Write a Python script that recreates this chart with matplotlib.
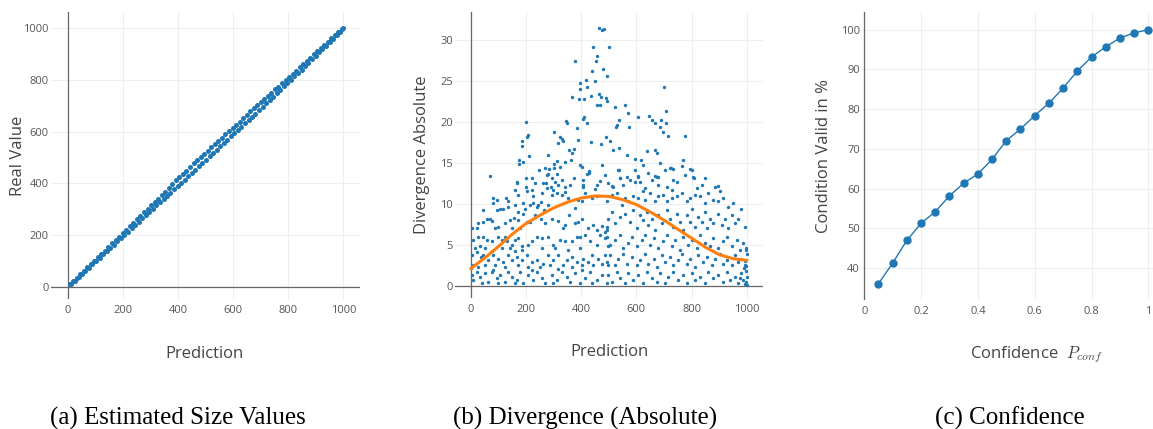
import numpy as np
import matplotlib.pyplot as plt

plt.rcParams['font.family'] = ['Open Sans', 'DejaVu Sans']
plt.rcParams['mathtext.fontset'] = 'cm'

BLUE = '#1f77b4'
ORANGE = '#ff7f0e'
GRID = '#eeeeee'
ZERO = '#666666'
TXT = '#444444'

# (a) estimated size values: prediction vs real value
pred_a = [8, 14, 20, 27, 33, 40, 46, 52, 58, 65, 71, 78, 84, 90, 97, 103, 110, 116, 122, 129,
          135, 142, 148, 155, 161, 168, 174, 180, 187, 193, 200, 206, 213, 219, 226, 232, 238, 245,
          251, 258, 264, 270, 277, 283, 290, 296, 303, 309, 316, 322, 328, 335, 341, 348, 354, 360,
          367, 373, 380, 386, 393, 399, 405, 412, 418, 425, 431, 438, 444, 450, 457, 463, 470, 476,
          483, 489, 495, 502, 508, 515, 521, 527, 534, 540, 547, 553, 560, 566, 572, 579, 585, 592,
          598, 604, 611, 617, 624, 630, 636, 643, 649, 656, 662, 668, 675, 681, 688, 694, 700, 707,
          713, 720, 726, 732, 739, 745, 752, 758, 764, 771, 777, 784, 790, 796, 803, 809, 816, 822,
          828, 835, 841, 848, 854, 860, 867, 873, 880, 886, 892, 899, 905, 912, 918, 924, 931, 937,
          944, 950, 956, 963, 969, 976, 982, 988, 995, 1000]
real_a = [10, 12, 23, 25, 36, 38, 50, 49, 62, 63, 76, 75, 90, 88, 102, 100, 116, 113, 128, 126,
          141, 138, 155, 151, 169, 164, 183, 176, 195, 189, 208, 202, 221, 214, 235, 227, 247, 240,
          261, 252, 273, 266, 288, 278, 300, 290, 315, 303, 329, 316, 340, 328, 355, 340, 368, 352,
          383, 364, 398, 377, 412, 390, 425, 402, 438, 415, 450, 428, 463, 440, 478, 452, 490, 466,
          503, 479, 515, 492, 527, 505, 540, 517, 553, 530, 565, 543, 577, 556, 590, 568, 601, 582,
          614, 594, 626, 607, 639, 619, 651, 632, 664, 645, 678, 656, 690, 670, 702, 683, 716, 696,
          725, 709, 738, 722, 751, 735, 763, 748, 774, 761, 787, 775, 799, 788, 812, 800, 824, 814,
          836, 827, 848, 840, 861, 853, 873, 866, 886, 879, 898, 893, 910, 906, 923, 919, 936, 932,
          948, 946, 960, 959, 972, 973, 985, 986, 996, 1000]

# (b) divergence (absolute) vs prediction, read region by region
div_high = [(464, 31.4), (475, 31.2), (484, 31.3), (441, 29.1), (502, 29.1), (478, 26.5), (492, 25.6),
            (378, 27.4), (456, 28.0), (453, 27.4), (438, 26.2), (417, 25.1), (450, 25.0), (395, 24.7),
            (397, 24.0), (701, 24.2), (422, 24.3), (435, 23.1), (464, 23.4), (368, 23.0), (392, 22.8),
            (410, 22.8), (472, 23.0), (489, 22.9), (495, 22.5), (456, 22.1), (468, 22.1), (522, 21.8),
            (559, 22.1), (570, 21.1), (706, 21.3), (410, 20.6), (405, 20.4), (343, 20.1), (347, 19.9),
            (200, 20.0), (385, 19.3), (422, 19.8), (531, 19.6), (526, 19.4), (538, 20.2), (606, 20.6),
            (573, 19.4), (646, 20.7), (656, 20.2), (669, 19.9), (690, 20.2), (708, 19.9), (686, 19.4),
            (695, 18.8), (713, 18.3), (776, 18.3), (206, 18.4), (202, 18.1), (185, 17.6), (186, 17.1),
            (302, 18.7), (323, 18.2), (329, 17.9), (333, 17.6), (317, 17.4), (388, 17.8), (437, 17.5),
            (470, 17.3), (490, 18.2), (505, 17.6), (538, 16.8), (516, 16.5), (357, 16.5), (375, 16.7),
            (366, 16.2), (640, 16.4), (669, 16.5), (673, 16.2), (684, 15.0), (212, 15.8), (175, 15.4),
            (173, 14.9), (190, 15.1), (278, 16.0), (301, 14.9), (311, 15.2), (340, 15.1), (362, 15.3),
            (395, 14.7), (565, 16.0), (596, 15.5), (618, 15.3), (768, 15.3), (794, 14.3), (764, 14.6),
            (727, 14.4), (622, 14.7), (68, 13.4), (166, 12.5), (220, 13.1), (200, 12.1), (245, 14.1),
            (281, 13.6), (429, 13.8), (536, 14.1), (540, 13.1), (666, 13.4), (677, 13.3), (806, 13.3),
            (734, 12.9), (607, 13.4), (595, 12.7), (895, 12.2), (510, 12.2), (272, 12.5), (305, 12.6),
            (407, 12.1), (468, 12.8)]
div_left = [(166, 12.6), (199, 13.1), (232, 12.5), (268, 14.4), (283, 14.2), (302, 14.4), (323, 14.5),
            (274, 13.5), (293, 13.1), (311, 13.6), (329, 12.9), (401, 14.5), (428, 14.0), (420, 13.6),
            (407, 12.9), (407, 12.3), (474, 14.7), (486, 13.5), (456, 12.3), (450, 11.8), (262, 12.5),
            (290, 12.1), (314, 12.3), (341, 12.1), (359, 12.3), (375, 13.1),
            (79, 10.7), (93, 10.5), (127, 10.7), (133, 10.3), (160, 11.7), (172, 11.1), (202, 11.5),
            (220, 11.7), (226, 10.9), (274, 11.9), (259, 11.3), (295, 11.1), (311, 11.3), (299, 11.7),
            (329, 11.1), (341, 11.4), (353, 10.7), (377, 9.5), (389, 10.5), (401, 10.3), (413, 11.3),
            (438, 10.7), (456, 10.9), (190, 10.1), (196, 9.4), (214, 9.9), (226, 10.1), (238, 9.6),
            (244, 9.9), (254, 10.2), (266, 9.2), (278, 9.8), (135, 9.6), (117, 9.4), (81, 10.1),
            (93, 9.2), (105, 9.4), (160, 9.8), (172, 9.0), (190, 8.8), (45, 9.2), (57, 8.2), (69, 8.2),
            (2, 7.0), (21, 7.1), (27, 7.6), (45, 7.8), (75, 7.9), (87, 7.0), (99, 7.2), (123, 7.6),
            (141, 8.0), (157, 8.3), (172, 8.0), (178, 7.0), (202, 7.8), (214, 7.8), (232, 8.6),
            (254, 8.2), (268, 7.6), (295, 8.2), (317, 7.9), (335, 7.0), (341, 7.4), (355, 8.6),
            (377, 7.6), (389, 7.8), (401, 8.2), (444, 7.4), (456, 6.8), (474, 7.3), (492, 6.8),
            (426, 7.0), (147, 7.0),
            (8, 5.6), (27, 6.0), (45, 6.0), (57, 5.6), (75, 5.4), (99, 5.9), (111, 5.6), (123, 6.0),
            (129, 5.4), (147, 5.0), (160, 5.6), (172, 5.8), (184, 4.8), (208, 5.0), (220, 5.4),
            (238, 6.0), (256, 5.8), (280, 6.0), (299, 5.0), (323, 5.6), (341, 5.4), (365, 5.4),
            (383, 6.0), (395, 5.9), (413, 6.2), (432, 5.4), (456, 5.0), (468, 6.2), (486, 5.8),
            (498, 4.8), (15, 4.6), (33, 4.8), (51, 4.6), (75, 4.2), (111, 4.6), (141, 4.6), (160, 4.2),
            (184, 4.4), (256, 4.6), (305, 4.6), (353, 4.4), (395, 4.6),
            (2, 3.7), (21, 4.1), (36, 3.5), (45, 3.7), (63, 3.1), (81, 3.7), (99, 3.3), (117, 2.9),
            (135, 3.7), (147, 3.1), (166, 3.5), (184, 3.1), (202, 3.7), (220, 2.9), (238, 3.1),
            (262, 2.7), (280, 3.7), (299, 3.1), (317, 3.7), (335, 2.5), (347, 3.1), (365, 3.5),
            (383, 2.9), (407, 3.3), (426, 2.9), (438, 3.7), (462, 3.3), (474, 2.7), (486, 3.7),
            (8, 2.5), (27, 2.3), (51, 2.5), (87, 2.5), (123, 2.3), (172, 2.5), (208, 2.3), (250, 2.3),
            (287, 2.5), (365, 2.3), (401, 2.5), (444, 2.5), (498, 2.5),
            (2, 1.3), (8, 0.7), (21, 1.7), (33, 1.1), (51, 1.5), (63, 0.5), (75, 1.7), (93, 0.9),
            (105, 1.3), (123, 0.5), (135, 1.7), (147, 1.1), (166, 0.7), (178, 1.7), (190, 0.3),
            (208, 1.3), (226, 0.7), (238, 1.7), (256, 0.9), (268, 0.3), (293, 1.3), (311, 0.7),
            (329, 1.7), (347, 1.1), (359, 0.5), (377, 1.5), (395, 0.3), (413, 0.9), (432, 1.7),
            (456, 0.7), (474, 1.3), (492, 0.3), (39, 0.3), (99, 0.3), (160, 0.3), (299, 0.3),
            (438, 0.3), (1, 2.1), (81, 1.9), (220, 1.9), (317, 2.0), (401, 1.9)]
div_right = [(534, 14.1), (540, 13.1), (565, 13.3), (577, 12.9), (595, 14.1), (607, 13.3), (613, 12.7),
             (643, 13.7), (673, 13.3), (680, 12.3), (704, 14.1), (722, 14.4), (734, 14.2), (746, 12.7),
             (710, 12.1), (728, 11.7), (776, 13.5), (800, 14.1), (807, 13.1), (819, 11.9), (837, 12.3),
             (849, 13.1), (885, 12.1), (903, 11.5), (498, 12.5), (516, 12.1), (553, 12.3), (631, 11.9),
             (656, 12.9),
             (510, 11.1), (528, 11.3), (559, 10.7), (571, 10.3), (589, 10.9), (607, 10.7), (625, 11.5),
             (631, 10.5), (649, 11.3), (667, 10.3), (680, 10.9), (698, 11.1), (710, 10.3), (728, 10.7),
             (746, 10.9), (764, 11.3), (782, 10.3), (794, 10.7), (813, 11.1), (831, 10.9), (849, 10.1),
             (861, 11.3), (879, 10.5), (897, 10.3), (915, 10.7), (933, 9.6), (951, 10.1), (492, 10.3),
             (546, 9.9),
             (486, 6.6), (492, 7.2), (498, 8.2), (510, 9.0), (522, 7.6), (540, 8.4), (559, 8.8),
             (577, 7.8), (589, 9.2), (601, 7.0), (613, 8.6), (625, 8.0), (637, 9.0), (643, 7.4),
             (656, 8.2), (667, 6.8), (680, 8.6), (692, 7.6), (710, 9.2), (722, 8.2), (734, 7.2),
             (746, 8.8), (758, 7.8), (770, 6.8), (782, 8.6), (794, 7.8), (800, 9.4), (813, 7.2),
             (825, 8.4), (837, 7.8), (849, 9.0), (855, 7.0), (867, 8.2), (879, 7.6), (897, 8.8),
             (909, 7.4), (921, 8.2), (933, 7.0), (945, 8.6), (957, 7.6), (969, 8.2), (981, 9.4),
             (994, 7.2),
             (492, 6.0), (504, 5.0), (522, 5.6), (540, 6.2), (553, 4.6), (571, 5.2), (583, 6.0),
             (601, 4.8), (619, 5.6), (631, 6.2), (649, 5.0), (662, 5.8), (680, 4.6), (698, 5.4),
             (710, 6.2), (728, 4.8), (740, 5.6), (758, 4.4), (770, 6.0), (788, 5.0), (800, 5.6),
             (819, 4.6), (831, 6.2), (849, 5.2), (867, 4.8), (879, 5.8), (897, 4.6), (915, 5.4),
             (927, 6.0), (945, 4.8), (963, 5.6), (975, 4.4), (987, 5.2), (998, 4.6),
             (492, 2.9), (504, 3.7), (522, 2.5), (534, 3.3), (553, 3.9), (565, 2.7), (583, 3.5),
             (601, 2.5), (613, 3.1), (631, 3.9), (643, 2.7), (662, 3.3), (673, 2.3), (692, 3.7),
             (704, 2.9), (722, 3.5), (734, 2.5), (752, 3.1), (764, 3.9), (782, 2.7), (794, 3.3),
             (813, 2.3), (825, 3.7), (843, 2.9), (855, 3.5), (873, 2.5), (885, 3.3), (903, 3.9),
             (915, 2.7), (927, 3.1), (945, 2.5), (957, 3.7), (969, 2.9), (981, 3.3), (994, 2.5),
             (1000, 3.9),
             (498, 1.3), (510, 0.5), (528, 1.7), (540, 0.9), (559, 0.3), (571, 1.5), (589, 0.7),
             (607, 1.3), (625, 0.3), (637, 1.7), (656, 0.9), (673, 0.5), (686, 1.5), (704, 0.3),
             (716, 1.1), (734, 1.7), (752, 0.7), (770, 1.3), (782, 0.3), (800, 1.5), (813, 0.7),
             (831, 1.1), (849, 0.3), (861, 1.7), (879, 0.9), (897, 1.3), (915, 0.5), (927, 1.7),
             (939, 0.7), (957, 1.1), (969, 0.3), (981, 1.5), (987, 0.7), (994, 0.2), (1000, 1.1),
             (975, 0.9), (991, 2.1), (996, 0.5), (998, 1.8), (1000, 0.1), (993, 3.0), (999, 2.4),
             (997, 4.4)]

# smooth trend curve in (b)
trend_x = [0, 50, 100, 150, 200, 250, 300, 350, 400, 450, 500, 550, 600, 650, 700, 750, 800, 850,
           900, 950, 1000]
trend_y = [2.1, 3.4, 4.8, 6.3, 7.6, 8.6, 9.5, 10.2, 10.7, 10.95, 10.9, 10.5, 9.9, 9.0, 8.0, 6.9,
           5.8, 4.7, 3.8, 3.3, 3.1]

# (c) confidence
p_conf = [0.05, 0.10, 0.15, 0.20, 0.25, 0.30, 0.35, 0.40, 0.45, 0.50, 0.55, 0.60, 0.65, 0.70,
          0.75, 0.80, 0.85, 0.90, 0.95, 1.00]
valid_pct = [36.1, 41.3, 47.0, 51.3, 54.2, 58.2, 61.4, 63.7, 67.4, 72.1, 75.0, 78.4, 81.5, 85.3,
             89.6, 93.1, 95.7, 97.9, 99.2, 100.0]

W, H = 1153, 429
fig = plt.figure(figsize=(W / 100, H / 100), dpi=100)


def add_axes(left, right, top, bottom):
    return fig.add_axes([left / W, 1 - bottom / H, (right - left) / W, (bottom - top) / H])


def style(ax, xlim, ylim, xticks, yticks, xlabels=None):
    ax.set_xlim(xlim)
    ax.set_ylim(ylim)
    ax.set_xticks(xticks)
    ax.set_yticks(yticks)
    if xlabels is not None:
        ax.set_xticklabels(xlabels)
    for s in ax.spines.values():
        s.set_visible(False)
    ax.tick_params(axis='both', length=0, labelsize=8, labelcolor='#555555')
    ax.tick_params(axis='y', pad=1.5)
    ax.tick_params(axis='x', pad=4.5)
    ax.grid(True, color=GRID, lw=0.8)
    ax.set_axisbelow(True)
    ax.axvline(0, color=ZERO, lw=0.9, zorder=1.5)
    if ylim[0] < 0:
        ax.axhline(0, color=ZERO, lw=0.9, zorder=1.5)


def labels(ax, xlabel, ylabel, xpos, ylx):
    ax.set_xlabel(xlabel, fontsize=12, color=TXT)
    ax.xaxis.set_label_coords(xpos, -0.19)
    ax.xaxis.label.set_va('center')
    ax.set_ylabel(ylabel, fontsize=12, color=TXT)
    ax.yaxis.set_label_coords(ylx, 0.5)
    ax.yaxis.label.set_va('center')


# (a)
ax1 = add_axes(51, 360, 12, 299)
ax1.scatter(pred_a, real_a, s=13, color=BLUE, linewidths=0, zorder=3)
style(ax1, (-60, 1060), (-46, 1062), range(0, 1001, 200), range(0, 1001, 200))
labels(ax1, 'Prediction', 'Real Value', 0.498, -0.107)

# (b)
pts = np.array(div_high + div_left + div_right)
ax2 = add_axes(455, 763, 12, 298)
ax2.scatter(pts[:, 0], pts[:, 1], s=6, color=BLUE, linewidths=0, zorder=3)
ax2.plot(trend_x, trend_y, color=ORANGE, lw=2.2, zorder=4)
style(ax2, (-58, 1059), (-1.5, 33.4), range(0, 1001, 200), range(0, 31, 5))
labels(ax2, 'Prediction', 'Divergence Absolute', 0.503, -0.108)

# (c)
ax3 = add_axes(862, 1153, 12, 300)
ax3.plot(p_conf, valid_pct, color=BLUE, lw=1.0, marker='o', ms=5, zorder=3, clip_on=False)
style(ax3, (-0.008, 1.0165), (32.0, 104.45), [0, 0.2, 0.4, 0.6, 0.8, 1.0], range(40, 101, 10),
      ['0', '0.2', '0.4', '0.6', '0.8', '1'])
labels(ax3, r'Confidence  $P_{conf}$', 'Condition Valid in %', 0.601, -0.131)

cap = dict(family='Liberation Serif', fontsize=18, color='black', va='baseline', ha='center')
fig.text(178 / W, 1 - 424.5 / H, '(a) Estimated Size Values', **cap)
fig.text(585 / W, 1 - 424.5 / H, '(b) Divergence (Absolute)', **cap)
fig.text(1010 / W, 1 - 424.5 / H, '(c) Confidence', **cap)

fig.savefig('out.png', dpi=100)
